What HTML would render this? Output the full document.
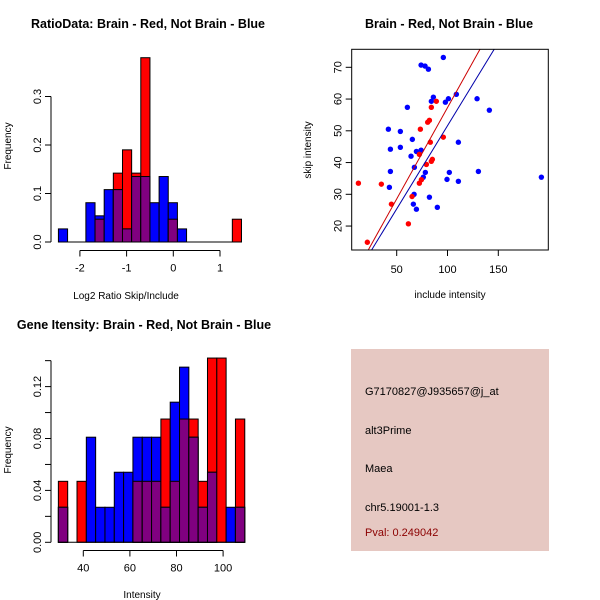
<!DOCTYPE html>
<html><head><meta charset="utf-8"><style>
body{margin:0;background:#fff}
svg{display:block;font-family:"Liberation Sans",sans-serif}
</style></head><body>
<svg id="s" width="600" height="600" viewBox="0 0 600 600">
<rect width="600" height="600" fill="#fff"/>
<text x="148" y="28" font-size="12.5" font-weight="bold" text-anchor="middle">RatioData: Brain - Red, Not Brain - Blue</text>
<text x="449" y="28" font-size="12.5" font-weight="bold" text-anchor="middle">Brain - Red, Not Brain - Blue</text>
<text x="144" y="329" font-size="12.5" font-weight="bold" text-anchor="middle">Gene Itensity: Brain - Red, Not Brain - Blue</text>
<text x="126" y="299" font-size="10" text-anchor="middle">Log2 Ratio Skip/Include</text>
<text transform="translate(11,146) rotate(-90)" font-size="10" text-anchor="middle">Frequency</text>
<text x="450" y="298" font-size="10" text-anchor="middle">include intensity</text>
<text transform="translate(311,150) rotate(-90)" font-size="10" text-anchor="middle">skip intensity</text>
<text x="142" y="598" font-size="10" text-anchor="middle">Intensity</text>
<text transform="translate(11,450) rotate(-90)" font-size="10" text-anchor="middle">Frequency</text>
<g id="h1"></g>
<g id="h2"></g>
<g id="sc"></g>
<rect x="351" y="349" width="198" height="202" fill="#e6c8c2"/>
<g font-size="11">
<text x="365" y="395">G7170827@J935657@j_at</text>
<text x="365" y="434">alt3Prime</text>
<text x="365" y="472">Maea</text>
<text x="365" y="511">chr5.19001-1.3</text>
<text x="365" y="536" fill="#8b0000">Pval: 0.249042</text>
</g>
</svg>
<script>
// Ratio histogram data
const ratioStart = -2.46, ratioBin = 0.196;
const ratioRed  = [0,0,0,0,0.047,0,0.142,0.19,0.142,0.38,0,0,0.047,0,0,0,0,0,0,0.047];
const ratioBlue = [0.027,0,0,0.081,0.054,0.108,0.108,0.027,0.135,0.135,0.081,0.135,0.081,0.027,0,0,0,0,0,0];
const ratioXTicks = [-2,-1,0,1];
const ratioYTicks = [0,0.1,0.2,0.3];
// Intensity histogram data
const intStart = 29.3, intBin = 4;
const intRed  = [0.047,0,0.047,0,0,0,0,0,0.047,0.047,0.047,0.095,0.047,0.095,0.095,0.047,0.142,0.142,0,0.095];
const intBlue = [0.027,0,0,0.081,0.027,0.027,0.054,0.054,0.081,0.081,0.081,0.027,0.108,0.135,0.081,0.027,0.054,0,0.027,0.027];
const intXTicks = [40,60,80,100];
const intYTicks = [0,0.02,0.04,0.06,0.08,0.10,0.12,0.14];
const intYLabels = ["0.00","","0.04","","0.08","","0.12",""];
// Scatter data
const blueX=[95.9,74.0,77.9,81.2,108.7,86.1,84.1,100.9,97.9,129.1,60.5,141.2,41.8,53.6,65.4,43.8,53.6,110.7,69.4,74.0,64.1,43.8,67.4,78.2,101.8,130.4,192.4,76.2,99.5,110.7,42.8,67.1,82.2,66.4,90.0,69.4];
const blueY=[73.1,70.7,70.4,69.4,61.5,60.6,59.3,60.1,59.0,60.1,57.4,56.5,50.5,49.8,47.3,44.2,44.8,46.4,43.5,43.9,42.0,37.2,38.5,36.9,36.9,37.2,35.4,35.4,34.7,34.1,32.2,30.0,29.1,26.9,25.9,25.3];
const redX=[89.0,84.1,82.2,80.5,73.3,83.1,95.9,72.3,85.1,84.1,79.2,12.3,34.9,74.3,72.3,65.1,44.8,61.5,21.1];
const redY=[59.3,57.4,53.3,52.7,50.5,46.4,48.0,42.6,41.0,40.4,39.4,33.5,33.2,34.6,33.5,29.3,26.9,20.7,14.9];
const redFit=[-0.2,0.575];
const blueFit=[-0.8,0.524];
const scXTicks=[50,100,150];
const scYTicks=[20,30,40,50,60,70];

const NS="http://www.w3.org/2000/svg";
function mk(p,t,a){const e=document.createElementNS(NS,t);for(const k in a)e.setAttribute(k,a[k]);p.appendChild(e);return e;}

function hist(g,start,bin,red,blue,sx,sy,y0){
  for(let i=0;i<red.length;i++){
    const x1=sx(start+i*bin),x2=sx(start+(i+1)*bin);
    const layers=[[red[i],'#ff0000','red'],[blue[i],'#0000ff','blue'],[Math.min(red[i],blue[i]),'#800080','overlap']];
    for(const [v,c,n] of layers){
      if(v<=0)continue;
      const r=mk(g,'rect',{x:x1,y:sy(v),width:x2-x1,height:y0-sy(v),fill:c,stroke:'#000','stroke-width':1});
      
      
    }
  }
}
function axisX(g,ticks,labels,sx,y){
  mk(g,'line',{x1:sx(ticks[0]),x2:sx(ticks[ticks.length-1]),y1:y,y2:y,stroke:'#000'});
  ticks.forEach((t,i)=>{mk(g,'line',{x1:sx(t),x2:sx(t),y1:y,y2:y+6,stroke:'#000'});
    const tx=mk(g,'text',{x:sx(t),y:y+21,'font-size':11,'text-anchor':'middle'});tx.textContent=labels[i];
    
    });
}
function axisY(g,ticks,labels,sy,x){
  mk(g,'line',{x1:x,x2:x,y1:sy(ticks[0]),y2:sy(ticks[ticks.length-1]),stroke:'#000'});
  ticks.forEach((t,i)=>{mk(g,'line',{x1:x-6,x2:x,y1:sy(t),y2:sy(t),stroke:'#000'});
    if(labels[i]==="")return;
    const tx=mk(g,'text',{transform:`translate(${x-10},${sy(t)}) rotate(-90)`,'font-size':11,'text-anchor':'middle'});tx.textContent=labels[i];
    
    });
}
// Ratio
{const g=document.getElementById('h1');
 const sx=v=>173.3+v*46.7, sy=v=>242-v*485;
 hist(g,ratioStart,ratioBin,ratioRed,ratioBlue,sx,sy,242);
 mk(g,'line',{x1:sx(ratioStart),x2:sx(ratioStart+20*ratioBin),y1:242,y2:242,stroke:'#000'});
 axisX(g,ratioXTicks,ratioXTicks.map(String),sx,250.5);
 axisY(g,ratioYTicks,ratioYTicks.map(v=>v.toFixed(1)),sy,51);}
// Intensity
{const g=document.getElementById('h2');
 const sx=v=>83.3+(v-40)*2.33, sy=v=>542.3-v*1297.5;
 hist(g,intStart,intBin,intRed,intBlue,sx,sy,542.3);
 mk(g,'line',{x1:sx(intStart),x2:sx(intStart+20*intBin),y1:542.3,y2:542.3,stroke:'#000'});
 axisX(g,intXTicks,intXTicks.map(String),sx,550.5);
 axisY(g,intYTicks,intYLabels,sy,51);}
// Scatter
{const g=document.getElementById('sc');
 const sx=v=>396.7+(v-50)*1.016, sy=v=>67.3+(70-v)*3.175;
 mk(g,'clipPath',{id:'cp'}).appendChild(document.createElementNS(NS,'rect'));
 const cr=g.querySelector('#cp rect');cr.setAttribute('x',351.7);cr.setAttribute('y',49.3);cr.setAttribute('width',196.6);cr.setAttribute('height',200.7);
 for(let i=0;i<blueX.length;i++){const c=mk(g,'circle',{cx:sx(blueX[i]),cy:sy(blueY[i]),r:2.7,fill:'#0000ff'});
   
   }
 for(let i=0;i<redX.length;i++){const c=mk(g,'circle',{cx:sx(redX[i]),cy:sy(redY[i]),r:2.7,fill:'#ff0000'});
   
   }
 [[redFit,'#cc0000','fit-line-brain'],[blueFit,'#0000aa','fit-line-not-brain']].forEach(([f,c,n])=>{
   const l=mk(g,'line',{x1:sx(0),y1:sy(f[0]),x2:sx(250),y2:sy(f[0]+f[1]*250),stroke:c,'stroke-width':1,'clip-path':'url(#cp)'});
   
   });
 mk(g,'rect',{x:351.7,y:49.3,width:196.6,height:200.7,fill:'none',stroke:'#000'});
 scXTicks.forEach(t=>{mk(g,'line',{x1:sx(t),x2:sx(t),y1:250,y2:256,stroke:'#000'});
   const tx=mk(g,'text',{x:sx(t),y:273,'font-size':11,'text-anchor':'middle'});tx.textContent=t;
   
   });
 scYTicks.forEach(t=>{mk(g,'line',{x1:345.7,x2:351.7,y1:sy(t),y2:sy(t),stroke:'#000'});
   const tx=mk(g,'text',{transform:`translate(${341.7},${sy(t)}) rotate(-90)`,'font-size':11,'text-anchor':'middle'});tx.textContent=t;
   
   });}
</script>
</body></html>
